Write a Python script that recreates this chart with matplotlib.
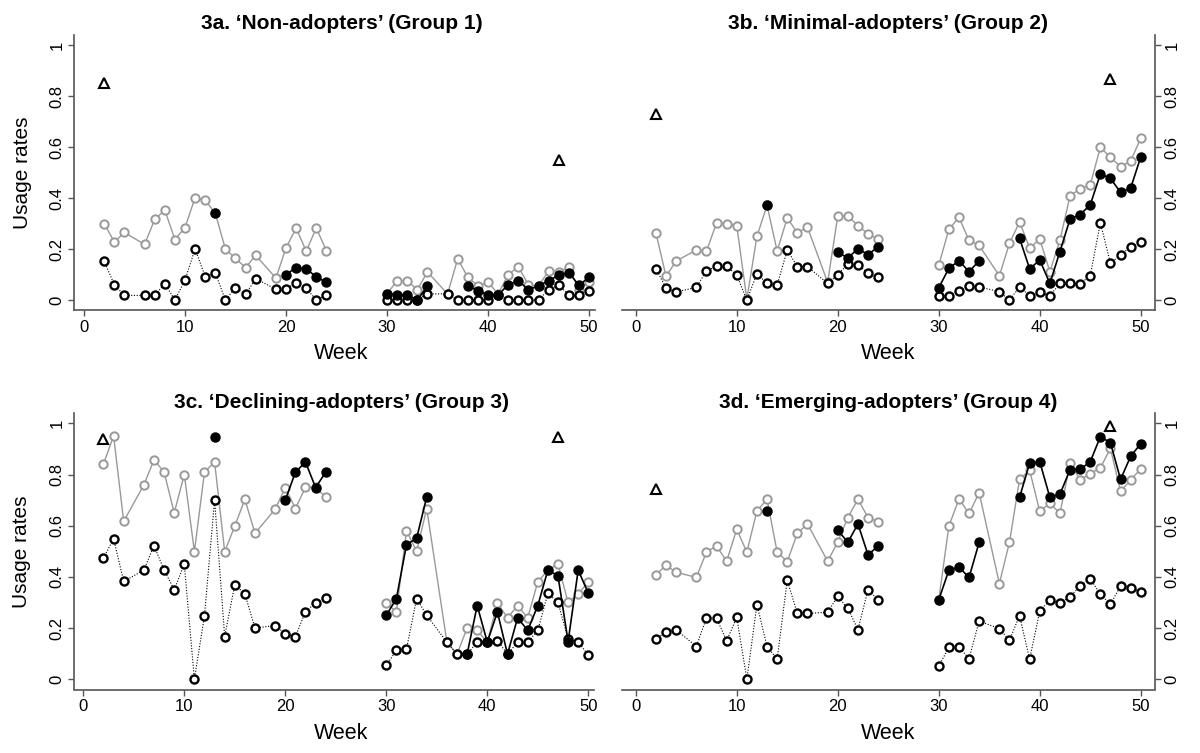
import matplotlib
matplotlib.use("Agg")
import matplotlib.pyplot as plt
import numpy as np

plt.rcParams["font.family"] = ["Liberation Sans", "DejaVu Sans"]

# weeks with data (weeks 1, 5, 18, 25-29 and 35 have none)
weeks = [2, 3, 4, 6, 7, 8, 9, 10, 11, 12, 13, 14, 15, 16, 17, 19, 20, 21, 22, 23, 24,
         30, 31, 32, 33, 34, 36, 37, 38, 39, 40, 41, 42, 43, 44, 45, 46, 47, 48, 49, 50]
filled_weeks = [13, 20, 21, 22, 23, 24, 30, 31, 32, 33, 34,
                38, 39, 40, 41, 42, 43, 44, 45, 46, 47, 48, 49, 50]
tri_weeks = [2, 47]

# 3a Non-adopters
gray_a = [0.30, 0.227, 0.265, 0.218, 0.316, 0.353, 0.237, 0.284, 0.401, 0.391, 0.34, 0.20,
          0.163, 0.127, 0.175, 0.086, 0.204, 0.282, 0.192, 0.282, 0.193,
          0.024, 0.076, 0.076, 0.04, 0.11, 0.024, 0.162, 0.089, 0.055, 0.07, 0.024, 0.099,
          0.131, 0.06, 0.055, 0.114, 0.111, 0.128, 0.04, 0.072]
open_a = [0.153, 0.06, 0.018, 0.018, 0.018, 0.064, 0.0, 0.078, 0.2, 0.092, 0.106, 0.0,
          0.048, 0.022, 0.084, 0.042, 0.044, 0.067, 0.046, 0.0, 0.02,
          0.0, 0.0, 0.0, 0.0, 0.024, 0.024, 0.0, 0.0, 0.0, 0.0, 0.02, 0.0,
          0.0, 0.0, 0.0, 0.04, 0.058, 0.02, 0.02, 0.037]
filled_a = [0.34, 0.10, 0.127, 0.123, 0.09, 0.07, 0.024, 0.02, 0.02, 0.0, 0.055,
            0.055, 0.037, 0.02, 0.02, 0.06, 0.076, 0.04, 0.055, 0.076, 0.097, 0.107, 0.058, 0.089]
tri_a = [0.85, 0.55]

# 3b Minimal-adopters
gray_b = [0.263, 0.093, 0.153, 0.196, 0.191, 0.302, 0.298, 0.292, 0.003, 0.25, 0.371, 0.192,
          0.322, 0.263, 0.286, 0.069, 0.329, 0.329, 0.292, 0.259, 0.239,
          0.136, 0.277, 0.324, 0.234, 0.214, 0.095, 0.222, 0.306, 0.204, 0.239, 0.111, 0.235,
          0.408, 0.437, 0.452, 0.599, 0.559, 0.523, 0.545, 0.635]
open_b = [0.123, 0.047, 0.031, 0.05, 0.114, 0.132, 0.132, 0.098, 0.0, 0.103, 0.065, 0.058,
          0.196, 0.131, 0.131, 0.065, 0.1, 0.14, 0.137, 0.106, 0.089,
          0.017, 0.017, 0.035, 0.054, 0.051, 0.033, 0.0, 0.051, 0.017, 0.03, 0.016, 0.065,
          0.065, 0.064, 0.095, 0.303, 0.144, 0.176, 0.209, 0.226]
filled_b = [0.371, 0.187, 0.165, 0.201, 0.178, 0.209, 0.048, 0.124, 0.154, 0.111, 0.154,
            0.242, 0.122, 0.157, 0.065, 0.19, 0.318, 0.335, 0.373, 0.494, 0.477, 0.422, 0.439, 0.561]
tri_b = [0.728, 0.868]

# 3c Declining-adopters
gray_c = [0.841, 0.951, 0.617, 0.76, 0.857, 0.81, 0.65, 0.8, 0.499, 0.81, 0.849, 0.499,
          0.599, 0.703, 0.57, 0.665, 0.749, 0.667, 0.75, 0.75, 0.712,
          0.299, 0.263, 0.581, 0.5, 0.667, 0.145, 0.098, 0.2, 0.191, 0.145, 0.299, 0.24,
          0.288, 0.24, 0.381, 0.427, 0.45, 0.3, 0.333, 0.381]
open_c = [0.474, 0.549, 0.382, 0.427, 0.522, 0.427, 0.35, 0.449, 0.0, 0.249, 0.7, 0.167,
          0.37, 0.333, 0.2, 0.21, 0.178, 0.167, 0.264, 0.299, 0.316,
          0.055, 0.113, 0.118, 0.315, 0.25, 0.145, 0.098, 0.098, 0.145, 0.145, 0.151, 0.098,
          0.145, 0.145, 0.191, 0.336, 0.3, 0.158, 0.145, 0.095]
filled_c = [0.945, 0.7, 0.809, 0.849, 0.749, 0.809, 0.25, 0.315, 0.526, 0.551, 0.712,
            0.098, 0.288, 0.145, 0.263, 0.098, 0.24, 0.191, 0.288, 0.427, 0.404, 0.147, 0.427, 0.336]
tri_c = [0.939, 0.945]

# 3d Emerging-adopters
gray_d = [0.409, 0.445, 0.418, 0.398, 0.497, 0.521, 0.461, 0.586, 0.497, 0.658, 0.703, 0.497,
          0.46, 0.57, 0.607, 0.461, 0.536, 0.632, 0.703, 0.632, 0.615,
          0.31, 0.598, 0.704, 0.648, 0.729, 0.374, 0.535, 0.781, 0.816, 0.656, 0.688, 0.648,
          0.844, 0.779, 0.803, 0.826, 0.902, 0.734, 0.779, 0.822]
open_d = [0.158, 0.184, 0.194, 0.128, 0.24, 0.238, 0.15, 0.242, 0.0, 0.292, 0.128, 0.078,
          0.387, 0.257, 0.257, 0.262, 0.324, 0.277, 0.194, 0.35, 0.31,
          0.051, 0.125, 0.125, 0.081, 0.227, 0.198, 0.152, 0.249, 0.078, 0.267, 0.309, 0.297,
          0.323, 0.365, 0.393, 0.332, 0.293, 0.365, 0.357, 0.34]
filled_d = [0.656, 0.583, 0.535, 0.607, 0.486, 0.521, 0.31, 0.426, 0.438, 0.398, 0.535,
            0.711, 0.844, 0.85, 0.711, 0.723, 0.819, 0.82, 0.85, 0.948, 0.924, 0.781, 0.871, 0.921]
tri_d = [0.742, 0.991]

titles = ["3a. \u2018Non-adopters\u2019 (Group 1)",
          "3b. \u2018Minimal-adopters\u2019 (Group 2)",
          "3c. \u2018Declining-adopters\u2019 (Group 3)",
          "3d. \u2018Emerging-adopters\u2019 (Group 4)"]

W, H = 1200, 753
GRAY = "#999999"
SPINE = "#555555"


def box(l, t, r, b):
    return [l / W, 1 - b / H, (r - l) / W, (b - t) / H]


def with_gaps(x, y, maxstep):
    xs, ys = [], []
    for i in range(len(x)):
        if i > 0 and x[i] - x[i - 1] > maxstep:
            xs.append(np.nan)
            ys.append(np.nan)
        xs.append(x[i])
        ys.append(y[i])
    return xs, ys


def panel(ax, gray, opn, filled, tri, title, side, xlim):
    x, y = with_gaps(weeks, gray, 2)
    ax.plot(x, y, color=GRAY, lw=1.0, marker="o", ms=6, mfc="white", mec=GRAY, mew=1.4, zorder=2)
    x, y = with_gaps(weeks, opn, 2)
    ax.plot(x, y, color="black", lw=0.8, ls=(0, (1, 1.5)), marker="o", ms=5.8, mfc="white",
            mec="black", mew=1.7, zorder=3)
    x, y = with_gaps(filled_weeks, filled, 1)
    ax.plot(x, y, color="black", lw=1.2, marker="o", ms=6.5, mfc="black", mec="black", zorder=4)
    ax.plot(tri_weeks, tri, ls="none", marker="^", ms=7, mfc="white", mec="black", mew=1.5, zorder=5)

    ax.set_xlim(*xlim)
    ax.set_ylim(-0.04, 1.04)
    ax.set_xticks([0, 10, 20, 30, 40, 50])
    ax.set_yticks([0, 0.2, 0.4, 0.6, 0.8, 1.0])
    ax.set_yticklabels(["0", "0.2", "0.4", "0.6", "0.8", "1"], rotation=90, va="center")
    ax.spines["top"].set_visible(False)
    for s in ax.spines.values():
        s.set_color(SPINE)
        s.set_linewidth(1.2)
    if side == "left":
        ax.spines["right"].set_visible(False)
        ax.spines["bottom"].set_bounds(xlim[0], 50.6)
        ax.set_ylabel("Usage rates", fontsize=15)
        ax.yaxis.set_label_coords(-0.08, 0.5)
    else:
        ax.spines["left"].set_visible(False)
        ax.yaxis.tick_right()
    ax.tick_params(direction="out", length=4, width=1, color=SPINE, labelsize=12, pad=3)
    ax.set_xlabel("Week", fontsize=15.5)
    ax.xaxis.set_label_coords(0.5, -0.12)
    ax.set_title(title, fontsize=15, fontweight="bold", pad=4)


fig = plt.figure(figsize=(12, 7.53), dpi=100)
ax_a = fig.add_axes(box(74.3, 34.8, 608.8, 310.2))
ax_b = fig.add_axes(box(622, 34.8, 1154.9, 310.2))
ax_c = fig.add_axes(box(74, 413.1, 608.1, 689.5))
ax_d = fig.add_axes(box(622, 413.1, 1154.9, 689.5))

panel(ax_a, gray_a, open_a, filled_a, tri_a, titles[0], "left", (-0.96, 51.96))
panel(ax_b, gray_b, open_b, filled_b, tri_b, titles[1], "right", (-1.36, 51.4))
panel(ax_c, gray_c, open_c, filled_c, tri_c, titles[2], "left", (-0.92, 51.96))
panel(ax_d, gray_d, open_d, filled_d, tri_d, titles[3], "right", (-1.36, 51.4))

fig.savefig("out.png", dpi=100)
